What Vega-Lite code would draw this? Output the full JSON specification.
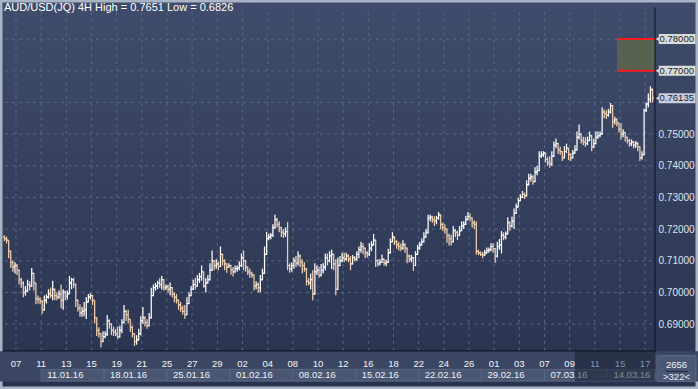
{
  "$schema": "https://vega.github.io/schema/vega-lite/v6.json",
  "width": 698,
  "height": 389,
  "autosize": "none",
  "padding": 0,
  "background": "#a9b4c4",
  "title": {"text": "AUD/USD(JQ) 4H High = 0.7651 Low = 0.6826", "anchor": "start", "frame": "group", "offset": -22, "baseline": "alphabetic", "dx": 4, "font": "Liberation Sans", "fontSize": 11, "fontWeight": "normal", "color": "#ffffff"},
  "config": {
    "view": {"fill": {"gradient": "linear", "x1": 0, "y1": 0, "x2": 0, "y2": 1, "stops": [{"offset": 0, "color": "#3f4c6b"}, {"offset": 1, "color": "#29334f"}]}, "stroke": "#a9b4c4", "strokeWidth": 5},
    "font": "Liberation Sans"
  },
  "datasets": {
    "bars": [
      {"k":-6,"o":0.7175,"h":0.718,"l":0.7162,"c":0.717},
      {"k":-5,"o":0.717,"h":0.7176,"l":0.7155,"c":0.7165},
      {"k":-4,"o":0.7165,"h":0.7165,"l":0.7108,"c":0.713},
      {"k":-3,"o":0.713,"h":0.7132,"l":0.7077,"c":0.7095},
      {"k":-2,"o":0.7095,"h":0.71,"l":0.7065,"c":0.708},
      {"k":-1,"o":0.708,"h":0.7095,"l":0.706,"c":0.7085},
      {"k":0,"o":0.7085,"h":0.709,"l":0.7055,"c":0.707},
      {"k":1,"o":0.707,"h":0.7072,"l":0.7025,"c":0.704},
      {"k":2,"o":0.704,"h":0.7046,"l":0.7015,"c":0.703},
      {"k":3,"o":0.703,"h":0.7035,"l":0.6985,"c":0.7},
      {"k":4,"o":0.7,"h":0.702,"l":0.699,"c":0.7005},
      {"k":5,"o":0.7005,"h":0.704,"l":0.7002,"c":0.7025},
      {"k":6,"o":0.7025,"h":0.7035,"l":0.7006,"c":0.702},
      {"k":7,"o":0.702,"h":0.7077,"l":0.7018,"c":0.706},
      {"k":8,"o":0.706,"h":0.7062,"l":0.7006,"c":0.703},
      {"k":9,"o":0.703,"h":0.703,"l":0.6963,"c":0.698},
      {"k":10,"o":0.698,"h":0.699,"l":0.6965,"c":0.6978},
      {"k":11,"o":0.6978,"h":0.6985,"l":0.6963,"c":0.6972},
      {"k":12,"o":0.6972,"h":0.6975,"l":0.6932,"c":0.6945},
      {"k":13,"o":0.6945,"h":0.699,"l":0.6942,"c":0.6975},
      {"k":14,"o":0.6975,"h":0.6994,"l":0.6965,"c":0.6985},
      {"k":15,"o":0.6985,"h":0.701,"l":0.698,"c":0.6995},
      {"k":16,"o":0.6995,"h":0.7015,"l":0.6983,"c":0.699},
      {"k":17,"o":0.699,"h":0.7037,"l":0.6975,"c":0.701},
      {"k":18,"o":0.701,"h":0.7012,"l":0.6975,"c":0.699},
      {"k":19,"o":0.699,"h":0.7,"l":0.6975,"c":0.6985},
      {"k":20,"o":0.6985,"h":0.7006,"l":0.698,"c":0.6995},
      {"k":21,"o":0.6995,"h":0.7025,"l":0.695,"c":0.6975},
      {"k":22,"o":0.6975,"h":0.701,"l":0.6945,"c":0.7},
      {"k":23,"o":0.7,"h":0.7006,"l":0.6975,"c":0.6988},
      {"k":24,"o":0.6988,"h":0.7006,"l":0.6978,"c":0.6995},
      {"k":25,"o":0.6995,"h":0.7052,"l":0.6995,"c":0.703},
      {"k":26,"o":0.703,"h":0.7046,"l":0.701,"c":0.704},
      {"k":27,"o":0.704,"h":0.7046,"l":0.7015,"c":0.7025},
      {"k":28,"o":0.7025,"h":0.7028,"l":0.6954,"c":0.6975},
      {"k":29,"o":0.6975,"h":0.6978,"l":0.694,"c":0.695},
      {"k":30,"o":0.695,"h":0.6963,"l":0.6923,"c":0.6935},
      {"k":31,"o":0.6935,"h":0.6954,"l":0.6923,"c":0.694},
      {"k":32,"o":0.694,"h":0.697,"l":0.6925,"c":0.6945},
      {"k":33,"o":0.6945,"h":0.6985,"l":0.6916,"c":0.697},
      {"k":34,"o":0.697,"h":0.6995,"l":0.6968,"c":0.6985},
      {"k":35,"o":0.6985,"h":0.6997,"l":0.6978,"c":0.699},
      {"k":36,"o":0.699,"h":0.6992,"l":0.696,"c":0.6975},
      {"k":37,"o":0.6975,"h":0.6975,"l":0.6902,"c":0.692},
      {"k":38,"o":0.692,"h":0.6922,"l":0.6862,"c":0.688},
      {"k":39,"o":0.688,"h":0.689,"l":0.6858,"c":0.687},
      {"k":40,"o":0.687,"h":0.6871,"l":0.6826,"c":0.6845},
      {"k":41,"o":0.6845,"h":0.6877,"l":0.6843,"c":0.686},
      {"k":42,"o":0.686,"h":0.6877,"l":0.6855,"c":0.6868},
      {"k":43,"o":0.6868,"h":0.6929,"l":0.6862,"c":0.691},
      {"k":44,"o":0.691,"h":0.6915,"l":0.6885,"c":0.69},
      {"k":45,"o":0.69,"h":0.6902,"l":0.6865,"c":0.688},
      {"k":46,"o":0.688,"h":0.6892,"l":0.6862,"c":0.6875},
      {"k":47,"o":0.6875,"h":0.6885,"l":0.6862,"c":0.687},
      {"k":48,"o":0.687,"h":0.6892,"l":0.6852,"c":0.686},
      {"k":49,"o":0.686,"h":0.6895,"l":0.6857,"c":0.688},
      {"k":50,"o":0.688,"h":0.6915,"l":0.6871,"c":0.6905},
      {"k":51,"o":0.6905,"h":0.696,"l":0.6902,"c":0.694},
      {"k":52,"o":0.694,"h":0.6945,"l":0.691,"c":0.693},
      {"k":53,"o":0.693,"h":0.6945,"l":0.6902,"c":0.6915},
      {"k":54,"o":0.6915,"h":0.6915,"l":0.6875,"c":0.689},
      {"k":55,"o":0.689,"h":0.6895,"l":0.6858,"c":0.687},
      {"k":56,"o":0.687,"h":0.6871,"l":0.6831,"c":0.6845},
      {"k":57,"o":0.6845,"h":0.6865,"l":0.6835,"c":0.685},
      {"k":58,"o":0.685,"h":0.6885,"l":0.6848,"c":0.687},
      {"k":59,"o":0.687,"h":0.6925,"l":0.6865,"c":0.691},
      {"k":60,"o":0.691,"h":0.6954,"l":0.69,"c":0.692},
      {"k":61,"o":0.692,"h":0.6925,"l":0.6892,"c":0.6905},
      {"k":62,"o":0.6905,"h":0.6915,"l":0.6885,"c":0.6895},
      {"k":63,"o":0.6895,"h":0.6935,"l":0.6892,"c":0.692},
      {"k":64,"o":0.692,"h":0.7015,"l":0.6918,"c":0.699},
      {"k":65,"o":0.699,"h":0.7025,"l":0.6988,"c":0.7015},
      {"k":66,"o":0.7015,"h":0.703,"l":0.7005,"c":0.702},
      {"k":67,"o":0.702,"h":0.7037,"l":0.701,"c":0.703},
      {"k":68,"o":0.703,"h":0.7045,"l":0.7015,"c":0.7025},
      {"k":69,"o":0.7025,"h":0.7052,"l":0.7009,"c":0.704},
      {"k":70,"o":0.704,"h":0.7042,"l":0.7005,"c":0.7015},
      {"k":71,"o":0.7015,"h":0.7025,"l":0.7008,"c":0.7018},
      {"k":72,"o":0.7018,"h":0.7025,"l":0.7,"c":0.701},
      {"k":73,"o":0.701,"h":0.7031,"l":0.6991,"c":0.7015},
      {"k":74,"o":0.7015,"h":0.7017,"l":0.6985,"c":0.6995},
      {"k":75,"o":0.6995,"h":0.7,"l":0.6969,"c":0.6985},
      {"k":76,"o":0.6985,"h":0.6995,"l":0.6965,"c":0.6975},
      {"k":77,"o":0.6975,"h":0.6978,"l":0.6945,"c":0.696},
      {"k":78,"o":0.696,"h":0.697,"l":0.6938,"c":0.695},
      {"k":79,"o":0.695,"h":0.6958,"l":0.693,"c":0.694},
      {"k":80,"o":0.694,"h":0.696,"l":0.6917,"c":0.693},
      {"k":81,"o":0.693,"h":0.6985,"l":0.6928,"c":0.6965},
      {"k":82,"o":0.6965,"h":0.7,"l":0.6963,"c":0.699},
      {"k":83,"o":0.699,"h":0.702,"l":0.6988,"c":0.701},
      {"k":84,"o":0.701,"h":0.704,"l":0.7008,"c":0.7025},
      {"k":85,"o":0.7025,"h":0.7046,"l":0.7009,"c":0.702},
      {"k":86,"o":0.702,"h":0.7055,"l":0.7018,"c":0.704},
      {"k":87,"o":0.704,"h":0.7062,"l":0.703,"c":0.705},
      {"k":88,"o":0.705,"h":0.7085,"l":0.7037,"c":0.7065},
      {"k":89,"o":0.7065,"h":0.7066,"l":0.7015,"c":0.702},
      {"k":90,"o":0.702,"h":0.7045,"l":0.7,"c":0.703},
      {"k":91,"o":0.703,"h":0.7055,"l":0.7028,"c":0.704},
      {"k":92,"o":0.704,"h":0.7092,"l":0.7038,"c":0.707},
      {"k":93,"o":0.707,"h":0.7132,"l":0.7068,"c":0.71},
      {"k":94,"o":0.71,"h":0.7102,"l":0.707,"c":0.7085},
      {"k":95,"o":0.7085,"h":0.7105,"l":0.7075,"c":0.709},
      {"k":96,"o":0.709,"h":0.7098,"l":0.707,"c":0.7082},
      {"k":97,"o":0.7082,"h":0.7145,"l":0.708,"c":0.712},
      {"k":98,"o":0.712,"h":0.7122,"l":0.7085,"c":0.71},
      {"k":99,"o":0.71,"h":0.7105,"l":0.707,"c":0.709},
      {"k":100,"o":0.709,"h":0.7092,"l":0.7062,"c":0.708},
      {"k":101,"o":0.708,"h":0.7092,"l":0.7077,"c":0.7085},
      {"k":102,"o":0.7085,"h":0.7087,"l":0.7056,"c":0.707},
      {"k":103,"o":0.707,"h":0.708,"l":0.705,"c":0.7065},
      {"k":104,"o":0.7065,"h":0.7085,"l":0.7062,"c":0.7075},
      {"k":105,"o":0.7075,"h":0.7085,"l":0.7065,"c":0.7078},
      {"k":106,"o":0.7078,"h":0.7098,"l":0.707,"c":0.7085},
      {"k":107,"o":0.7085,"h":0.7123,"l":0.708,"c":0.711},
      {"k":108,"o":0.711,"h":0.7132,"l":0.707,"c":0.71},
      {"k":109,"o":0.71,"h":0.7102,"l":0.7065,"c":0.708},
      {"k":110,"o":0.708,"h":0.7082,"l":0.7055,"c":0.7065},
      {"k":111,"o":0.7065,"h":0.7075,"l":0.7046,"c":0.706},
      {"k":112,"o":0.706,"h":0.7065,"l":0.7046,"c":0.7055},
      {"k":113,"o":0.7055,"h":0.7057,"l":0.7006,"c":0.702},
      {"k":114,"o":0.702,"h":0.7035,"l":0.701,"c":0.7025},
      {"k":115,"o":0.7025,"h":0.7031,"l":0.7,"c":0.7015},
      {"k":116,"o":0.7015,"h":0.7055,"l":0.7,"c":0.704},
      {"k":117,"o":0.704,"h":0.7075,"l":0.7038,"c":0.706},
      {"k":118,"o":0.706,"h":0.7145,"l":0.7058,"c":0.712},
      {"k":119,"o":0.712,"h":0.7191,"l":0.7118,"c":0.717},
      {"k":120,"o":0.717,"h":0.7185,"l":0.7165,"c":0.7175},
      {"k":121,"o":0.7175,"h":0.7188,"l":0.7168,"c":0.718},
      {"k":122,"o":0.718,"h":0.7215,"l":0.7175,"c":0.7205},
      {"k":123,"o":0.7205,"h":0.7245,"l":0.72,"c":0.723},
      {"k":124,"o":0.723,"h":0.7235,"l":0.7205,"c":0.7215},
      {"k":125,"o":0.7215,"h":0.7225,"l":0.719,"c":0.7205},
      {"k":126,"o":0.7205,"h":0.7207,"l":0.7175,"c":0.719},
      {"k":127,"o":0.719,"h":0.72,"l":0.7172,"c":0.7185},
      {"k":128,"o":0.7185,"h":0.7205,"l":0.7175,"c":0.7192},
      {"k":129,"o":0.7192,"h":0.7222,"l":0.707,"c":0.7085},
      {"k":130,"o":0.7085,"h":0.7092,"l":0.7062,"c":0.7075},
      {"k":131,"o":0.7075,"h":0.7095,"l":0.7065,"c":0.7085},
      {"k":132,"o":0.7085,"h":0.711,"l":0.7075,"c":0.71},
      {"k":133,"o":0.71,"h":0.7115,"l":0.708,"c":0.7092},
      {"k":134,"o":0.7092,"h":0.713,"l":0.7085,"c":0.7115},
      {"k":135,"o":0.7115,"h":0.712,"l":0.708,"c":0.7095},
      {"k":136,"o":0.7095,"h":0.7105,"l":0.706,"c":0.7085},
      {"k":137,"o":0.7085,"h":0.7095,"l":0.7065,"c":0.7075},
      {"k":138,"o":0.7075,"h":0.7077,"l":0.7022,"c":0.7035},
      {"k":139,"o":0.7035,"h":0.7046,"l":0.7022,"c":0.703},
      {"k":140,"o":0.703,"h":0.706,"l":0.701,"c":0.704},
      {"k":141,"o":0.704,"h":0.707,"l":0.6975,"c":0.6995},
      {"k":142,"o":0.6995,"h":0.7092,"l":0.6992,"c":0.7065},
      {"k":143,"o":0.7065,"h":0.7085,"l":0.7055,"c":0.707},
      {"k":144,"o":0.707,"h":0.708,"l":0.7046,"c":0.7055},
      {"k":145,"o":0.7055,"h":0.709,"l":0.705,"c":0.707},
      {"k":146,"o":0.707,"h":0.7092,"l":0.706,"c":0.708},
      {"k":147,"o":0.708,"h":0.7123,"l":0.707,"c":0.711},
      {"k":148,"o":0.711,"h":0.7123,"l":0.7085,"c":0.71},
      {"k":149,"o":0.71,"h":0.713,"l":0.7095,"c":0.7115},
      {"k":150,"o":0.7115,"h":0.7135,"l":0.7074,"c":0.712},
      {"k":151,"o":0.712,"h":0.7122,"l":0.707,"c":0.709},
      {"k":152,"o":0.709,"h":0.7105,"l":0.6991,"c":0.701},
      {"k":153,"o":0.701,"h":0.711,"l":0.7008,"c":0.7085},
      {"k":154,"o":0.7085,"h":0.7115,"l":0.7083,"c":0.71},
      {"k":155,"o":0.71,"h":0.7125,"l":0.7095,"c":0.711},
      {"k":156,"o":0.711,"h":0.7125,"l":0.7095,"c":0.7105},
      {"k":157,"o":0.7105,"h":0.7125,"l":0.71,"c":0.7115},
      {"k":158,"o":0.7115,"h":0.712,"l":0.7095,"c":0.7105},
      {"k":159,"o":0.7105,"h":0.7115,"l":0.707,"c":0.709},
      {"k":160,"o":0.709,"h":0.7118,"l":0.7088,"c":0.711},
      {"k":161,"o":0.711,"h":0.7115,"l":0.7098,"c":0.7105},
      {"k":162,"o":0.7105,"h":0.713,"l":0.71,"c":0.712},
      {"k":163,"o":0.712,"h":0.7145,"l":0.7108,"c":0.7135},
      {"k":164,"o":0.7135,"h":0.716,"l":0.7125,"c":0.7145},
      {"k":165,"o":0.7145,"h":0.7155,"l":0.712,"c":0.714},
      {"k":166,"o":0.714,"h":0.7142,"l":0.7108,"c":0.7125},
      {"k":167,"o":0.7125,"h":0.713,"l":0.711,"c":0.712},
      {"k":168,"o":0.712,"h":0.7155,"l":0.7115,"c":0.714},
      {"k":169,"o":0.714,"h":0.7162,"l":0.713,"c":0.715},
      {"k":170,"o":0.715,"h":0.7185,"l":0.7148,"c":0.7165},
      {"k":171,"o":0.7165,"h":0.7167,"l":0.708,"c":0.71},
      {"k":172,"o":0.71,"h":0.7105,"l":0.7083,"c":0.709},
      {"k":173,"o":0.709,"h":0.7105,"l":0.7085,"c":0.7095},
      {"k":174,"o":0.7095,"h":0.712,"l":0.7093,"c":0.7105},
      {"k":175,"o":0.7105,"h":0.7107,"l":0.7085,"c":0.7092},
      {"k":176,"o":0.7092,"h":0.7103,"l":0.7083,"c":0.7095},
      {"k":177,"o":0.7095,"h":0.7138,"l":0.7093,"c":0.7125},
      {"k":178,"o":0.7125,"h":0.717,"l":0.7123,"c":0.716},
      {"k":179,"o":0.716,"h":0.719,"l":0.7158,"c":0.7175},
      {"k":180,"o":0.7175,"h":0.7177,"l":0.715,"c":0.716},
      {"k":181,"o":0.716,"h":0.7165,"l":0.7138,"c":0.715},
      {"k":182,"o":0.715,"h":0.716,"l":0.7132,"c":0.7145},
      {"k":183,"o":0.7145,"h":0.7155,"l":0.713,"c":0.714},
      {"k":184,"o":0.714,"h":0.7165,"l":0.7135,"c":0.715},
      {"k":185,"o":0.715,"h":0.7155,"l":0.7125,"c":0.714},
      {"k":186,"o":0.714,"h":0.7142,"l":0.7092,"c":0.7115},
      {"k":187,"o":0.7115,"h":0.712,"l":0.7095,"c":0.7105},
      {"k":188,"o":0.7105,"h":0.7118,"l":0.7095,"c":0.711},
      {"k":189,"o":0.711,"h":0.7112,"l":0.7068,"c":0.7085},
      {"k":190,"o":0.7085,"h":0.713,"l":0.7083,"c":0.712},
      {"k":191,"o":0.712,"h":0.715,"l":0.7118,"c":0.714},
      {"k":192,"o":0.714,"h":0.716,"l":0.7135,"c":0.715},
      {"k":193,"o":0.715,"h":0.717,"l":0.7148,"c":0.716},
      {"k":194,"o":0.716,"h":0.719,"l":0.7158,"c":0.7175},
      {"k":195,"o":0.7175,"h":0.72,"l":0.7173,"c":0.719},
      {"k":196,"o":0.719,"h":0.7245,"l":0.7185,"c":0.7235},
      {"k":197,"o":0.7235,"h":0.7245,"l":0.7225,"c":0.7238},
      {"k":198,"o":0.7238,"h":0.7242,"l":0.722,"c":0.723},
      {"k":199,"o":0.723,"h":0.724,"l":0.721,"c":0.7225},
      {"k":200,"o":0.7225,"h":0.7242,"l":0.7215,"c":0.7235},
      {"k":201,"o":0.7235,"h":0.7254,"l":0.723,"c":0.7245},
      {"k":202,"o":0.7245,"h":0.7247,"l":0.72,"c":0.7215},
      {"k":203,"o":0.7215,"h":0.722,"l":0.7195,"c":0.7205},
      {"k":204,"o":0.7205,"h":0.7215,"l":0.7185,"c":0.72},
      {"k":205,"o":0.72,"h":0.7202,"l":0.7157,"c":0.718},
      {"k":206,"o":0.718,"h":0.7185,"l":0.7148,"c":0.717},
      {"k":207,"o":0.717,"h":0.7182,"l":0.7148,"c":0.716},
      {"k":208,"o":0.716,"h":0.721,"l":0.7158,"c":0.7195},
      {"k":209,"o":0.7195,"h":0.72,"l":0.7175,"c":0.719},
      {"k":210,"o":0.719,"h":0.7195,"l":0.7165,"c":0.718},
      {"k":211,"o":0.718,"h":0.721,"l":0.7178,"c":0.7195},
      {"k":212,"o":0.7195,"h":0.7225,"l":0.7193,"c":0.721},
      {"k":213,"o":0.721,"h":0.7225,"l":0.72,"c":0.7215},
      {"k":214,"o":0.7215,"h":0.7242,"l":0.7213,"c":0.723},
      {"k":215,"o":0.723,"h":0.7254,"l":0.7228,"c":0.724},
      {"k":216,"o":0.724,"h":0.725,"l":0.7225,"c":0.7235},
      {"k":217,"o":0.7235,"h":0.7237,"l":0.7205,"c":0.722},
      {"k":218,"o":0.722,"h":0.7228,"l":0.72,"c":0.7215},
      {"k":219,"o":0.7215,"h":0.7225,"l":0.712,"c":0.713},
      {"k":220,"o":0.713,"h":0.7135,"l":0.7118,"c":0.7125},
      {"k":221,"o":0.7125,"h":0.713,"l":0.7115,"c":0.712},
      {"k":222,"o":0.712,"h":0.7128,"l":0.7108,"c":0.7118},
      {"k":223,"o":0.7118,"h":0.7135,"l":0.7115,"c":0.7125},
      {"k":224,"o":0.7125,"h":0.7142,"l":0.7122,"c":0.7132},
      {"k":225,"o":0.7132,"h":0.7142,"l":0.7125,"c":0.7135},
      {"k":226,"o":0.7135,"h":0.7155,"l":0.713,"c":0.7145},
      {"k":227,"o":0.7145,"h":0.7155,"l":0.7125,"c":0.7138},
      {"k":228,"o":0.7138,"h":0.714,"l":0.7094,"c":0.7115},
      {"k":229,"o":0.7115,"h":0.716,"l":0.711,"c":0.7145},
      {"k":230,"o":0.7145,"h":0.7169,"l":0.7135,"c":0.715},
      {"k":231,"o":0.715,"h":0.7194,"l":0.7123,"c":0.718},
      {"k":232,"o":0.718,"h":0.719,"l":0.7165,"c":0.7175},
      {"k":233,"o":0.7175,"h":0.7192,"l":0.7168,"c":0.7185},
      {"k":234,"o":0.7185,"h":0.7237,"l":0.7183,"c":0.722},
      {"k":235,"o":0.722,"h":0.7225,"l":0.7195,"c":0.721},
      {"k":236,"o":0.721,"h":0.724,"l":0.7205,"c":0.7225},
      {"k":237,"o":0.7225,"h":0.7265,"l":0.72,"c":0.725},
      {"k":238,"o":0.725,"h":0.728,"l":0.7248,"c":0.727},
      {"k":239,"o":0.727,"h":0.7298,"l":0.7268,"c":0.729},
      {"k":240,"o":0.729,"h":0.731,"l":0.7288,"c":0.73},
      {"k":241,"o":0.73,"h":0.732,"l":0.7298,"c":0.731},
      {"k":242,"o":0.731,"h":0.7315,"l":0.7295,"c":0.7305},
      {"k":243,"o":0.7305,"h":0.7354,"l":0.7303,"c":0.734},
      {"k":244,"o":0.734,"h":0.7375,"l":0.7338,"c":0.736},
      {"k":245,"o":0.736,"h":0.7375,"l":0.735,"c":0.7365},
      {"k":246,"o":0.7365,"h":0.737,"l":0.734,"c":0.735},
      {"k":247,"o":0.735,"h":0.7395,"l":0.7348,"c":0.738},
      {"k":248,"o":0.738,"h":0.74,"l":0.737,"c":0.7385},
      {"k":249,"o":0.7385,"h":0.7446,"l":0.7383,"c":0.743},
      {"k":250,"o":0.743,"h":0.7446,"l":0.7425,"c":0.7435},
      {"k":251,"o":0.7435,"h":0.7446,"l":0.7428,"c":0.744},
      {"k":252,"o":0.744,"h":0.7442,"l":0.741,"c":0.742},
      {"k":253,"o":0.742,"h":0.7428,"l":0.74,"c":0.741},
      {"k":254,"o":0.741,"h":0.743,"l":0.7394,"c":0.7405},
      {"k":255,"o":0.7405,"h":0.7446,"l":0.74,"c":0.743},
      {"k":256,"o":0.743,"h":0.7477,"l":0.7428,"c":0.7465},
      {"k":257,"o":0.7465,"h":0.7486,"l":0.7455,"c":0.747},
      {"k":258,"o":0.747,"h":0.7472,"l":0.7438,"c":0.745},
      {"k":259,"o":0.745,"h":0.746,"l":0.7435,"c":0.7445},
      {"k":260,"o":0.7445,"h":0.7447,"l":0.7415,"c":0.7425},
      {"k":261,"o":0.7425,"h":0.7462,"l":0.7423,"c":0.7445},
      {"k":262,"o":0.7445,"h":0.747,"l":0.744,"c":0.7455},
      {"k":263,"o":0.7455,"h":0.7457,"l":0.7418,"c":0.7435},
      {"k":264,"o":0.7435,"h":0.744,"l":0.7415,"c":0.7425},
      {"k":265,"o":0.7425,"h":0.745,"l":0.7423,"c":0.744},
      {"k":266,"o":0.744,"h":0.7465,"l":0.7438,"c":0.745},
      {"k":267,"o":0.745,"h":0.7508,"l":0.7448,"c":0.749},
      {"k":268,"o":0.749,"h":0.753,"l":0.7483,"c":0.75},
      {"k":269,"o":0.75,"h":0.7502,"l":0.747,"c":0.748},
      {"k":270,"o":0.748,"h":0.7492,"l":0.7465,"c":0.7475},
      {"k":271,"o":0.7475,"h":0.749,"l":0.746,"c":0.747},
      {"k":272,"o":0.747,"h":0.7492,"l":0.7465,"c":0.748},
      {"k":273,"o":0.748,"h":0.7508,"l":0.7478,"c":0.7495},
      {"k":274,"o":0.7495,"h":0.7497,"l":0.7446,"c":0.746},
      {"k":275,"o":0.746,"h":0.7485,"l":0.7455,"c":0.747},
      {"k":276,"o":0.747,"h":0.7508,"l":0.7468,"c":0.749},
      {"k":277,"o":0.749,"h":0.7508,"l":0.7485,"c":0.7495},
      {"k":278,"o":0.7495,"h":0.7508,"l":0.749,"c":0.75},
      {"k":279,"o":0.75,"h":0.7585,"l":0.7498,"c":0.757},
      {"k":280,"o":0.757,"h":0.7578,"l":0.755,"c":0.7565},
      {"k":281,"o":0.7565,"h":0.7575,"l":0.7548,"c":0.756},
      {"k":282,"o":0.756,"h":0.758,"l":0.7555,"c":0.757},
      {"k":283,"o":0.757,"h":0.7598,"l":0.7565,"c":0.759},
      {"k":284,"o":0.759,"h":0.7592,"l":0.752,"c":0.754},
      {"k":285,"o":0.754,"h":0.7555,"l":0.753,"c":0.7545},
      {"k":286,"o":0.7545,"h":0.755,"l":0.7525,"c":0.7535},
      {"k":287,"o":0.7535,"h":0.7537,"l":0.7505,"c":0.7515},
      {"k":288,"o":0.7515,"h":0.7535,"l":0.7483,"c":0.75},
      {"k":289,"o":0.75,"h":0.7515,"l":0.749,"c":0.7505},
      {"k":290,"o":0.7505,"h":0.7507,"l":0.7477,"c":0.749},
      {"k":291,"o":0.749,"h":0.7492,"l":0.747,"c":0.748},
      {"k":292,"o":0.748,"h":0.7485,"l":0.746,"c":0.747},
      {"k":293,"o":0.747,"h":0.7483,"l":0.7462,"c":0.7475},
      {"k":294,"o":0.7475,"h":0.7478,"l":0.7455,"c":0.7465},
      {"k":295,"o":0.7465,"h":0.7478,"l":0.7457,"c":0.747},
      {"k":296,"o":0.747,"h":0.7475,"l":0.7446,"c":0.746},
      {"k":297,"o":0.746,"h":0.7462,"l":0.7415,"c":0.7425},
      {"k":298,"o":0.7425,"h":0.7446,"l":0.742,"c":0.7435},
      {"k":299,"o":0.7435,"h":0.758,"l":0.7433,"c":0.7575},
      {"k":300,"o":0.7575,"h":0.76,"l":0.757,"c":0.7595},
      {"k":301,"o":0.7595,"h":0.7628,"l":0.7585,"c":0.761},
      {"k":302,"o":0.761,"h":0.7651,"l":0.76,"c":0.764},
      {"k":303,"o":0.764,"h":0.7645,"l":0.76,"c":0.76135}
    ],
    "weeks": [
      {"k0":11.5,"k1":41.5,"lab":"11.01.16"},
      {"k0":41.5,"k1":71.5,"lab":"18.01.16"},
      {"k0":71.5,"k1":101.5,"lab":"25.01.16"},
      {"k0":101.5,"k1":131.5,"lab":"01.02.16"},
      {"k0":131.5,"k1":161.5,"lab":"08.02.16"},
      {"k0":161.5,"k1":191.5,"lab":"15.02.16"},
      {"k0":191.5,"k1":221.5,"lab":"22.02.16"},
      {"k0":221.5,"k1":251.5,"lab":"29.02.16"},
      {"k0":251.5,"k1":281.5,"lab":"07.03.16"},
      {"k0":281.5,"k1":304.2,"lab":"14.03.16"}
    ],
    "levels": [
      {"p":0.69},{"p":0.7},{"p":0.71},{"p":0.72},{"p":0.73},{"p":0.74},{"p":0.75},{"p":0.76},{"p":0.77},{"p":0.78}
    ],
    "days": [
      {"k":-0.5,"lab":"07"},{"k":11.5,"lab":"11"},{"k":23.5,"lab":"13"},{"k":35.5,"lab":"15"},{"k":47.5,"lab":"19"},{"k":59.5,"lab":"21"},{"k":71.5,"lab":"25"},{"k":83.5,"lab":"27"},{"k":95.5,"lab":"29"},{"k":107.5,"lab":"02"},{"k":119.5,"lab":"04"},{"k":131.5,"lab":"08"},{"k":143.5,"lab":"10"},{"k":155.5,"lab":"12"},{"k":167.5,"lab":"16"},{"k":179.5,"lab":"18"},{"k":191.5,"lab":"22"},{"k":203.5,"lab":"24"},{"k":215.5,"lab":"26"},{"k":227.5,"lab":"01"},{"k":239.5,"lab":"03"},{"k":251.5,"lab":"07"},{"k":263.5,"lab":"09"},{"k":275.5,"lab":"11"},{"k":287.5,"lab":"15"},{"k":299.5,"lab":"17"}
    ],
    "zone": [{"k0":286.1,"lo":0.77,"hi":0.78}],
    "tags": [
      {"p":0.78,"lab":"0.78000","kind":"level"},
      {"p":0.77,"lab":"0.77000","kind":"level"},
      {"p":0.76135,"lab":"0.76135","kind":"price"}
    ],
    "one": [{"n":1}]
  },
  "layer": [
    {
      "data": {"name": "one"},
      "mark": {"type": "rect", "fill": "#3b4762"},
      "encoding": {
        "x": {"datum": -8.13, "type": "quantitative", "scale": {"domain": [-8.13, 324.7], "nice": false, "zero": false}},
        "x2": {"datum": 324.7},
        "y": {"datum": 0.681385, "type": "quantitative", "scale": {"domain": [0.671077, 0.790769], "nice": false, "zero": false}},
        "y2": {"datum": 0.671846}
      }
    },
    {
      "data": {"name": "weeks"},
      "mark": {"type": "rect", "fill": "#4a5773", "stroke": "#5b6884", "strokeWidth": 1},
      "encoding": {
        "x": {"field": "k0", "type": "quantitative"},
        "x2": {"field": "k1"},
        "y": {"datum": 0.675692},
        "y2": {"datum": 0.672}
      }
    },
    {
      "data": {"name": "weeks"},
      "mark": {"type": "text", "align": "left", "baseline": "alphabetic", "dx": 6, "fontSize": 9.5, "color": "#eef2f7"},
      "encoding": {
        "x": {"field": "k0", "type": "quantitative"},
        "y": {"datum": 0.672923},
        "text": {"field": "lab"}
      }
    },
    {
      "data": {"name": "one"},
      "mark": {"type": "rect", "fill": "#141b2e", "opacity": 0.5},
      "encoding": {
        "x": {"datum": 266.0},
        "x2": {"datum": 304.2},
        "y": {"datum": 0.681385},
        "y2": {"datum": 0.671846}
      }
    },
    {
      "data": {"name": "days"},
      "mark": {"type": "text", "align": "center", "baseline": "alphabetic", "fontSize": 9.5},
      "encoding": {
        "x": {"field": "k", "type": "quantitative"},
        "y": {"datum": 0.676308},
        "text": {"field": "lab"},
        "color": {"condition": {"test": "datum.k > 265", "value": "#8791a8"}, "value": "#f2f5f9"}
      }
    },
    {
      "data": {"name": "one"},
      "mark": {"type": "rect", "fill": "#4b5875", "stroke": "#5d6a86", "strokeWidth": 1},
      "encoding": {
        "x": {"datum": 305.2},
        "x2": {"datum": 323.75},
        "y": {"datum": 0.68},
        "y2": {"datum": 0.671846}
      }
    },
    {
      "data": {"name": "one"},
      "mark": {"type": "text", "align": "center", "baseline": "alphabetic", "fontSize": 9.5, "color": "#eef2f7"},
      "encoding": {
        "x": {"datum": 314.45},
        "y": {"datum": 0.676154},
        "text": {"value": "2656"}
      }
    },
    {
      "data": {"name": "one"},
      "mark": {"type": "text", "align": "center", "baseline": "alphabetic", "fontSize": 9.5, "color": "#eef2f7"},
      "encoding": {
        "x": {"datum": 314.45},
        "y": {"datum": 0.672308},
        "text": {"value": ">322<"}
      }
    },
    {
      "data": {"name": "one"},
      "mark": {"type": "rule", "color": "#1e2536", "strokeWidth": 1},
      "encoding": {
        "x": {"datum": 309.44},
        "x2": {"datum": 319.93},
        "y": {"datum": 0.675077}
      }
    },
    {
      "data": {"name": "levels"},
      "mark": {"type": "rule", "strokeDash": [3, 4], "color": "#5a6884", "strokeWidth": 1},
      "encoding": {
        "y": {"field": "p", "type": "quantitative"},
        "x": {"datum": -5.75},
        "x2": {"datum": 304.2}
      }
    },
    {
      "data": {"name": "days"},
      "mark": {"type": "rule", "strokeDash": [3, 4], "color": "#5a6884", "strokeWidth": 1},
      "encoding": {
        "x": {"field": "k", "type": "quantitative"},
        "y": {"datum": 0.681538},
        "y2": {"datum": 0.789231}
      }
    },
    {
      "data": {"name": "zone"},
      "mark": {"type": "rect", "fill": "#59644f", "opacity": 0.95},
      "encoding": {
        "x": {"field": "k0", "type": "quantitative"},
        "x2": {"datum": 304.2},
        "y": {"field": "lo", "type": "quantitative"},
        "y2": {"field": "hi"}
      }
    },
    {
      "data": {"name": "zone"},
      "mark": {"type": "rule", "color": "#ff1c1c", "strokeWidth": 2},
      "encoding": {
        "x": {"field": "k0", "type": "quantitative"},
        "x2": {"datum": 304.2},
        "y": {"field": "lo", "type": "quantitative"}
      }
    },
    {
      "data": {"name": "zone"},
      "mark": {"type": "rule", "color": "#ff1c1c", "strokeWidth": 2},
      "encoding": {
        "x": {"field": "k0", "type": "quantitative"},
        "x2": {"datum": 304.2},
        "y": {"field": "hi", "type": "quantitative"}
      }
    },
    {
      "data": {"name": "bars"},
      "mark": {"type": "rule", "strokeWidth": 1.25},
      "encoding": {
        "x": {"field": "k", "type": "quantitative", "axis": {"labels": false, "ticks": false, "domain": false, "grid": false, "title": null}},
        "y": {"field": "l", "type": "quantitative", "axis": {"orient": "right", "offset": -43, "values": [0.69, 0.7, 0.71, 0.72, 0.73, 0.74, 0.75], "format": ".5f", "domain": false, "ticks": false, "tickSize": 0, "grid": false, "labelPadding": 3, "labelFont": "Liberation Sans", "labelFontSize": 10, "labelColor": "#dfe5ee", "labelOverlap": false, "labelFlush": false, "labelBound": false, "title": null, "zindex": 1}},
        "y2": {"field": "h"},
        "color": {"condition": {"test": "datum.c < datum.o", "value": "#f0cfae"}, "value": "#ffffff"}
      }
    },
    {
      "data": {"name": "bars"},
      "mark": {"type": "rule", "strokeWidth": 1.1, "xOffset": -1.5, "x2Offset": 0},
      "encoding": {
        "x": {"field": "k", "type": "quantitative"},
        "x2": {"field": "k"},
        "y": {"field": "o", "type": "quantitative"},
        "color": {"condition": {"test": "datum.c < datum.o", "value": "#f0cfae"}, "value": "#ffffff"}
      }
    },
    {
      "data": {"name": "bars"},
      "mark": {"type": "rule", "strokeWidth": 1.1, "xOffset": 0, "x2Offset": 1.5},
      "encoding": {
        "x": {"field": "k", "type": "quantitative"},
        "x2": {"field": "k"},
        "y": {"field": "c", "type": "quantitative"},
        "color": {"condition": {"test": "datum.c < datum.o", "value": "#f0cfae"}, "value": "#ffffff"}
      }
    },
    {
      "data": {"name": "one"},
      "mark": {"type": "rule", "color": "#0d1120", "strokeWidth": 1},
      "encoding": {
        "x": {"datum": 304.2},
        "y": {"datum": 0.790},
        "y2": {"datum": 0.680923}
      }
    },
    {
      "data": {"name": "one"},
      "mark": {"type": "rule", "color": "#0d1120", "strokeWidth": 1},
      "encoding": {
        "y": {"datum": 0.681538},
        "x": {"datum": -6.7},
        "x2": {"datum": 304.2}
      }
    },
    {
      "data": {"name": "tags"},
      "mark": {"type": "bar", "size": 10, "orient": "horizontal"},
      "encoding": {
        "x": {"datum": 306.0},
        "x2": {"datum": 323.5},
        "y": {"field": "p", "type": "quantitative"},
        "color": {"condition": {"test": "datum.kind == 'price'", "value": "#c6cedd"}, "value": "#dadcd8"}
      }
    },
    {
      "data": {"name": "tags"},
      "mark": {"type": "point", "shape": "triangle-left", "size": 40, "filled": true, "opacity": 1},
      "encoding": {
        "x": {"datum": 305.8},
        "y": {"field": "p", "type": "quantitative"},
        "color": {"condition": {"test": "datum.kind == 'price'", "value": "#c6cedd"}, "value": "#dadcd8"}
      }
    },
    {
      "data": {"name": "tags"},
      "mark": {"type": "text", "align": "left", "baseline": "middle", "fontSize": 9.5, "color": "#1b2232"},
      "encoding": {
        "x": {"datum": 306.4},
        "y": {"field": "p", "type": "quantitative"},
        "text": {"field": "lab"}
      }
    }
  ]
}
